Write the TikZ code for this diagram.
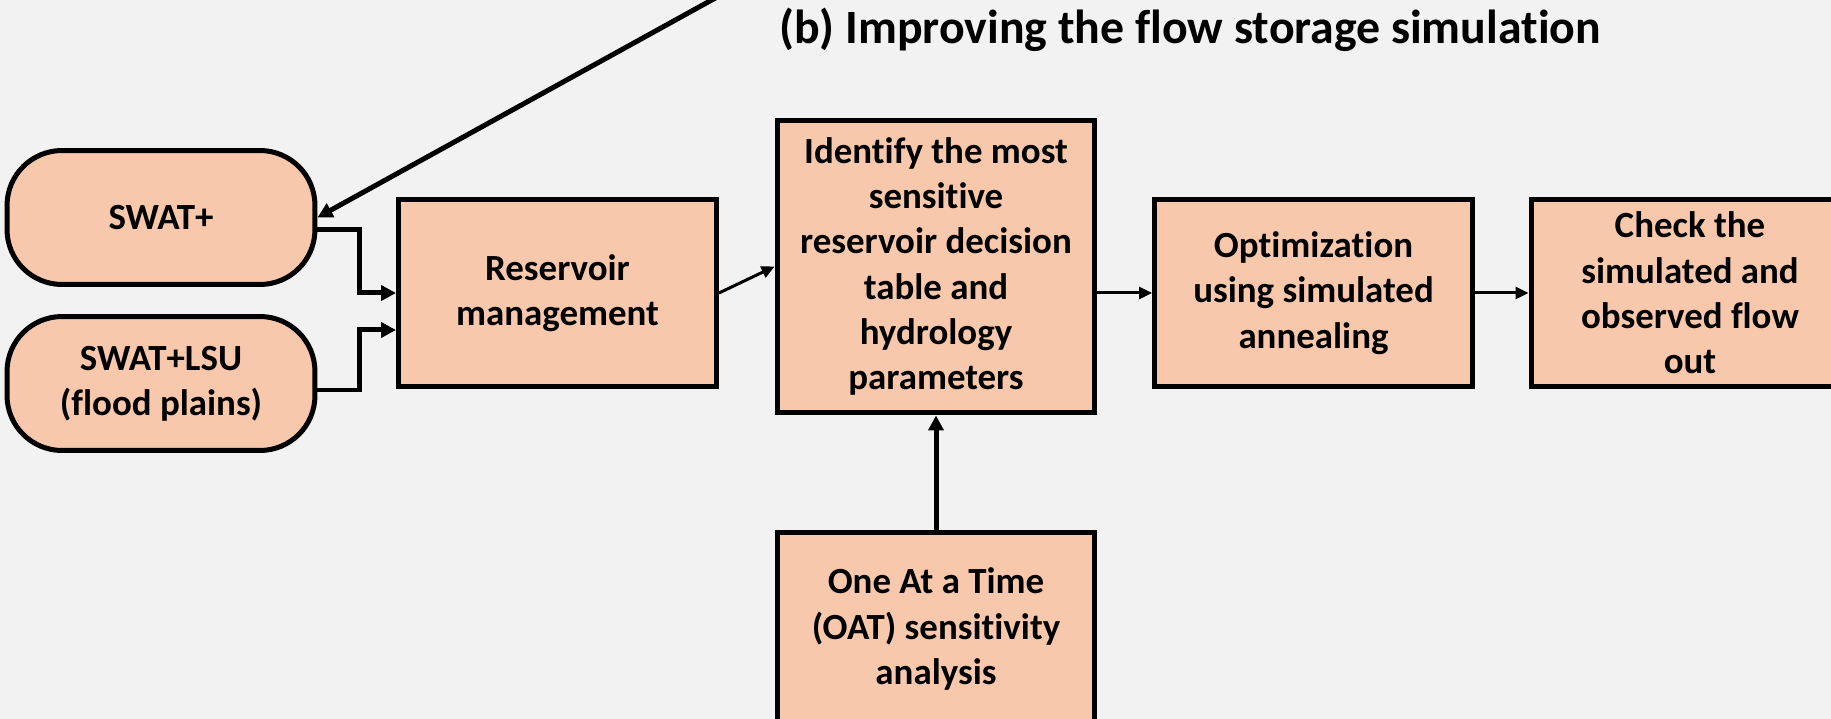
\documentclass[tikz,border=0pt]{standalone}
\usepackage{fontspec}
\setmainfont{Carlito}[Ligatures=NoCommon]
\usepackage{xcolor}
\usetikzlibrary{arrows.meta}
\definecolor{boxfill}{HTML}{F8C8AD}
\definecolor{pagebg}{HTML}{F2F2F2}

\begin{document}
\begin{tikzpicture}[x=0.02cm, y=-0.02cm,
            procbox/.style={draw, line width=0.1cm, fill=boxfill, align=center, inner sep=0pt,
                font=\fontsize{21}{25.8}\selectfont\bfseries, minimum width=6.36cm, minimum height=3.76cm},
            modelbox/.style={procbox, rounded corners=1.1cm, minimum width=6.16cm, minimum height=2.68cm},
            thickarrow/.style={line width=0.1cm, -{Triangle[length=0.3cm,width=0.3cm]}},
            thinarrow/.style={line width=0.06cm, -{Triangle[length=0.26cm,width=0.24cm]}}]
        \useasboundingbox (0,0) rectangle (1831,719);
        \fill[pagebg] (0,0) rectangle (1831,719);
        \clip (0,0) rectangle (1831,719);

        \node[anchor=west, inner sep=0pt, font=\fontsize{27.2}{30}\selectfont\bfseries] (title) at (779,30) {(b) Improving the flow storage simulation};

        \node[modelbox] (swat) at (161,217.5) {SWAT+};
        \node[modelbox] (swatlsu) at (161,383.5) {SWAT+LSU\\(flood plains)};
        \node[procbox] (resmgmt) at (557.5,293) {Reservoir\\management};
        \node[procbox, minimum height=5.86cm] (identify) at (936,266.5) {Identify the most\\sensitive\\reservoir decision\\table and\\hydrology\\parameters};
        \node[procbox] (optim) at (1313.5,293) {Optimization\\using simulated\\annealing};
        \node[procbox] (check) at (1690,293) {Check the\\simulated and\\observed flow\\out};
        \node[procbox, minimum height=3.88cm] (oat) at (936,629) {One At a Time\\(OAT) sensitivity\\analysis};

        \coordinate (upper) at (748,-20);
        \draw[thickarrow] (upper) -- (swat.east);

        \draw[thickarrow] ([yshift=-0.25cm]swat.east) -- ++(42,0) |- (resmgmt.west);
        \draw[thickarrow] ([yshift=-0.13cm]swatlsu.east) -- ++(42,0) |- ([yshift=-0.74cm]resmgmt.west);
        \draw[thinarrow] (resmgmt.east) -- (identify.west);
        \draw[thinarrow] (identify.east |- optim.west) -- (optim.west);
        \draw[thinarrow] (optim.east) -- (check.west);
        \draw[thickarrow] (oat.north) -- (identify.south);
    \end{tikzpicture}
\end{document}
